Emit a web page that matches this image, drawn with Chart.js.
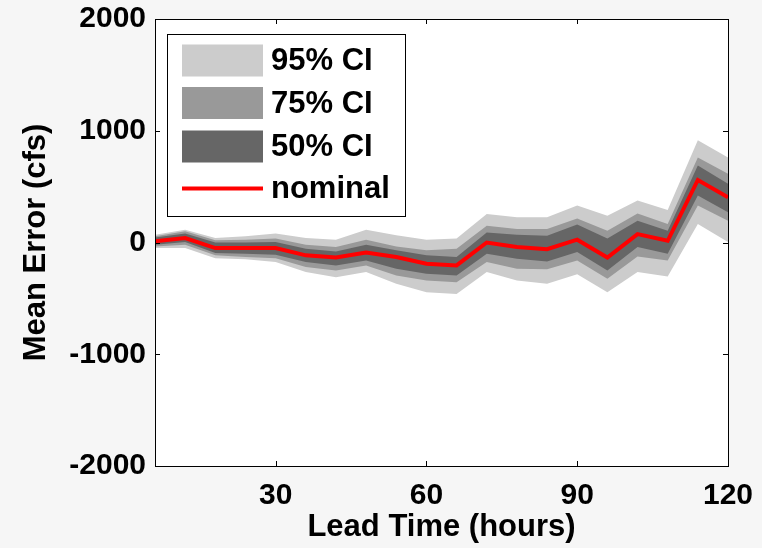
<!DOCTYPE html>
<html>
<head>
<meta charset="utf-8">
<script src="https://cdn.jsdelivr.net/npm/chart.js@4.4.0/dist/chart.umd.min.js"></script>
<style>
    html, body { margin: 0; padding: 0; background: #f6f6f6; }
    #contenedor { width: 762px; height: 548px; position: relative; }
</style>
</head>
<body>
<div id="contenedor"><canvas id="myChart" width="762" height="548"></canvas></div>
<script>
// horas de pronostico
const leadTime = [6, 12, 18, 24, 30, 36, 42, 48, 54, 60, 66, 72, 78, 84, 90, 96, 102, 108, 114, 120];
// error medio (cfs)
const nominal = [10, 40, -50, -50, -50, -115, -135, -90, -130, -190, -205, 0, -40, -60, 25, -135, 75, 15, 560, 405];
const upper95 = [70, 115, 40, 55, 80, 40, 25, 115, 65, 25, 35, 255, 225, 225, 330, 240, 375, 290, 915, 760];
const lower95 = [-50, -50, -140, -150, -175, -265, -310, -265, -370, -445, -460, -265, -340, -370, -285, -445, -265, -305, 165, 5];
const upper75 = [55, 100, 20, 25, 35, -20, -40, 25, -35, -70, -55, 150, 120, 120, 215, 105, 260, 165, 760, 615];
const lower75 = [-35, -20, -115, -130, -140, -220, -250, -205, -295, -340, -355, -175, -235, -240, -160, -325, -125, -160, 330, 195];
const upper50 = [45, 80, 0, 0, 5, -55, -80, -20, -70, -115, -130, 90, 70, 60, 160, 35, 195, 105, 690, 525];
const lower50 = [-20, 5, -95, -100, -110, -175, -205, -160, -235, -280, -295, -100, -145, -170, -85, -250, -40, -100, 420, 270];

const xTicks = [30, 60, 90, 120];
const yTicks = [-2000, -1000, 0, 1000, 2000];
const legendLabels = ["95% CI", "75% CI", "50% CI", "nominal"];

const fuente = "'Liberation Sans', Arial, sans-serif";

function puntos(arr) {
    return leadTime.map((t, i) => ({x: t, y: arr[i]}));
}

function banda(arr, color, target, orden) {
    return {
        data: puntos(arr),
        borderColor: 'rgba(0,0,0,0)',
        borderWidth: 0,
        backgroundColor: color,
        pointRadius: 0,
        tension: 0,
        fill: target,
        order: orden
    };
}

const marcoEjes = {
    id: 'marcoEjes',
    beforeDraw(chart) {
        const ctx = chart.ctx;
        const a = chart.chartArea;
        ctx.save();
        ctx.fillStyle = '#f6f6f6';
        ctx.fillRect(0, 0, chart.width, chart.height);
        ctx.fillStyle = '#ffffff';
        ctx.fillRect(a.left, a.top, a.right - a.left, a.bottom - a.top);
        ctx.restore();
    },
    afterDatasetsDraw(chart) {
        const ctx = chart.ctx;
        const a = chart.chartArea;
        const x = chart.scales.x;
        const y = chart.scales.y;
        ctx.save();
        ctx.strokeStyle = '#000';
        ctx.lineWidth = 1;
        ctx.strokeRect(a.left + 0.5, a.top + 0.5, a.right - a.left, a.bottom - a.top);
        ctx.beginPath();
        xTicks.forEach(v => {
            const px = Math.round(x.getPixelForValue(v)) + 0.5;
            ctx.moveTo(px, a.bottom);
            ctx.lineTo(px, a.bottom - 5);
            ctx.moveTo(px, a.top);
            ctx.lineTo(px, a.top + 5);
        });
        yTicks.forEach(v => {
            const py = Math.round(y.getPixelForValue(v)) + 0.5;
            ctx.moveTo(a.left, py);
            ctx.lineTo(a.left + 5, py);
            ctx.moveTo(a.right, py);
            ctx.lineTo(a.right - 5, py);
        });
        ctx.stroke();

        // leyenda
        const lx = a.left + 12, ly = a.top + 15;
        ctx.fillStyle = '#ffffff';
        ctx.fillRect(lx, ly, 238, 182);
        ctx.strokeRect(lx + 0.5, ly + 0.5, 238, 182);
        const colores = ['#cccccc', '#999999', '#666666'];
        const centros = [26.5, 69, 112.5, 154.5];
        ctx.font = 'bold 31px ' + fuente;
        ctx.textBaseline = 'middle';
        legendLabels.forEach((txt, i) => {
            const cy = ly + centros[i];
            if (i < 3) {
                ctx.fillStyle = colores[i];
                ctx.fillRect(lx + 15, cy - 16, 81, 32);
            } else {
                ctx.strokeStyle = '#ff0000';
                ctx.lineWidth = 4;
                ctx.beginPath();
                ctx.moveTo(lx + 15, cy);
                ctx.lineTo(lx + 96, cy);
                ctx.stroke();
            }
            ctx.fillStyle = '#000';
            ctx.fillText(txt, lx + 104, cy + 1);
        });
        ctx.restore();
    }
};

new Chart("myChart", {
    type: "line",
    data: {
        datasets: [
            {
                data: puntos(nominal),
                borderColor: '#ff0000',
                borderWidth: 4,
                pointRadius: 0,
                tension: 0,
                fill: false,
                order: 0
            },
            banda(upper50, '#666666', 2, 1),
            banda(lower50, 'rgba(0,0,0,0)', false, 1),
            banda(upper75, '#999999', 4, 2),
            banda(lower75, 'rgba(0,0,0,0)', false, 2),
            banda(upper95, '#cccccc', 6, 3),
            banda(lower95, 'rgba(0,0,0,0)', false, 3)
        ]
    },
    plugins: [marcoEjes],
    options: {
        responsive: false,
        animation: false,
        layout: {padding: {top: 18, right: 34, bottom: 0, left: 0}},
        plugins: {
            legend: {display: false},
            tooltip: {enabled: false}
        },
        scales: {
            x: {
                type: 'linear',
                min: 6,
                max: 120,
                afterBuildTicks: scale => { scale.ticks = xTicks.map(v => ({value: v})); },
                afterFit: scale => { scale.height = 82; },
                grid: {display: false},
                border: {display: false},
                ticks: {
                    color: '#000',
                    padding: 4,
                    maxRotation: 0,
                    callback: v => String(v),
                    font: {family: fuente, size: 30, weight: 'bold'}
                },
                title: {
                    display: true,
                    text: 'Lead Time (hours)',
                    color: '#000',
                    padding: {top: 0, bottom: 2},
                    font: {family: fuente, size: 31, weight: 'bold'}
                }
            },
            y: {
                min: -2000,
                max: 2000,
                afterBuildTicks: scale => { scale.ticks = yTicks.map(v => ({value: v})); },
                afterFit: scale => { scale.width = 155; },
                grid: {display: false},
                border: {display: false},
                ticks: {
                    color: '#000',
                    padding: 1,
                    callback: v => String(v),
                    font: {family: fuente, size: 30, weight: 'bold'}
                },
                title: {
                    display: true,
                    text: 'Mean Error (cfs)',
                    color: '#000',
                    padding: {top: 18, bottom: 0},
                    font: {family: fuente, size: 31, weight: 'bold'}
                }
            }
        }
    }
});
</script>
</body>
</html>
